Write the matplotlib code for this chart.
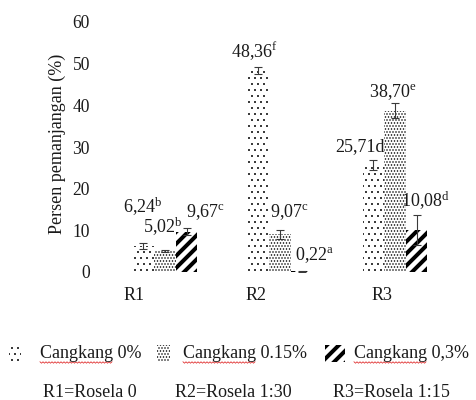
import numpy as np
import matplotlib
matplotlib.use("Agg")
import matplotlib.pyplot as plt
from matplotlib.patches import Rectangle

plt.rcParams['font.family'] = ['Liberation Serif', 'DejaVu Serif']
plt.rcParams['mathtext.fontset'] = 'custom'
plt.rcParams['mathtext.rm'] = 'Liberation Serif'
plt.rcParams['mathtext.it'] = 'Liberation Serif:italic'

# ---- data -------------------------------------------------------------
groups = ['R1', 'R2', 'R3']
series_names = ['Cangkang 0%', 'Cangkang 0.15%', 'Cangkang 0,3%']
cangkang_0 = [6.24, 48.36, 25.71]
cangkang_015 = [5.02, 9.07, 38.70]
cangkang_03 = [9.67, 0.22, 10.08]
err_0 = [0.7, 0.8, 1.2]
err_015 = [0.2, 1.1, 1.8]
err_03 = [0.8, 0.1, 3.5]
letters_0 = ['b', 'f', 'd']
letters_015 = ['b', 'c', 'e']
letters_03 = ['c', 'a', 'd']
group_notes = ['R1=Rosela 0', 'R2=Rosela 1:30', 'R3=Rosela 1:15']
y_ticks = [0, 10, 20, 30, 40, 50, 60]

# ---- styling ----------------------------------------------------------
W, H, DPI = 476, 400, 72
INK = '#1a1a1a'
FS = 18
hatches = ['..', '....', '//']
hatch_lw = [0.7, 0.9, 4.0]
bar_w = 0.187
# label offsets (points) from the top of each bar, per series / group
label_off = [
    [(-0.5, 33), (-4, 13.5), (-13.5, 14)],
    [(-2.5, 18), (9.5, 17), (-2.5, 13.75)],
    [(18.5, 14.7), (13, 11), (9, 23)],
]
inline_letter = {(0, 2)}
tick_shift = [-0.27, -0.21, -0.11]


def px(x, y):
    return x / W, 1 - y / H


fig = plt.figure(figsize=(W / DPI, H / DPI), dpi=DPI)
ax = fig.add_axes([100 / W, 1 - 272 / H, 360 / W, 250 / H])

x = np.arange(len(groups))
data = [cangkang_0, cangkang_015, cangkang_03]
errs = [err_0, err_015, err_03]
letters = [letters_0, letters_015, letters_03]

for i, (vals, e, hat, hlw) in enumerate(zip(data, errs, hatches, hatch_lw)):
    pos = x + (i - 1) * bar_w
    bars = ax.bar(pos, vals, bar_w, color='white', edgecolor='black',
                  linewidth=0, hatch=hat, label=series_names[i], zorder=2)
    for b in bars:
        b.set_hatch_linewidth(hlw)
    ax.errorbar(pos, vals, yerr=e, fmt='none', ecolor='#3a3a3a',
                elinewidth=1.1, capsize=4, capthick=1.1, zorder=3)
    for j, v in enumerate(vals):
        num = f"{v:.2f}".replace('.', ',')
        if (i, j) in inline_letter:
            txt = num + letters[i][j]
        else:
            txt = num + r"$^{\mathrm{" + letters[i][j] + "}}$"
        dx, dy = label_off[i][j]
        ax.annotate(txt, (pos[j], v), xytext=(dx, dy),
                    textcoords='offset points', ha='center', va='baseline',
                    fontsize=FS, color=INK, zorder=4)

ax.set_xlim((100 - 165) / 115, (460 - 165) / 115)
ax.set_ylim(0, 60)
ax.set_yticks(y_ticks)
ax.set_yticklabels([str(t) for t in y_ticks])
ax.set_xticks(x + np.array(tick_shift))
ax.set_xticklabels(groups)
ax.tick_params(axis='y', length=0, pad=10, labelsize=17.5, labelcolor=INK)
ax.tick_params(axis='x', length=0, pad=15, labelsize=FS, labelcolor=INK)
for s in ax.spines.values():
    s.set_visible(False)

fig.text(*px(57, 144), 'Persen pemanjangan (%)', rotation=90,
         ha='center', va='center', fontsize=FS, color=INK)

# ---- legend row ---------------------------------------------------------
renderer = fig.canvas.get_renderer()
icon_boxes = [(9, 12), (157, 13), (325, 20)]
text_x = [40, 183, 354]
for i, name in enumerate(series_names):
    x0, w = icon_boxes[i]
    r = Rectangle(px(x0, 362), w / W, 17 / H, transform=fig.transFigure,
                  facecolor='white', edgecolor='black', linewidth=0,
                  hatch=hatches[i])
    r.set_hatch_linewidth(hatch_lw[i])
    fig.add_artist(r)
    fig.text(*px(text_x[i], 358), name, ha='left', va='baseline',
             fontsize=FS, color=INK)
    # spell-check style wavy underline beneath the first word
    word = fig.text(0, 0, name.split()[0], fontsize=FS)
    ww = word.get_window_extent(renderer).width
    word.remove()
    xs = np.arange(text_x[i], text_x[i] + ww, 1.5)
    ys = 362.5 + np.where(np.arange(len(xs)) % 2 == 0, -0.7, 0.7)
    fig.add_artist(plt.Line2D(xs / W, 1 - ys / H, transform=fig.transFigure,
                              color='#e03030', linewidth=0.8))

note_x = [43, 175, 333]
for nx, note in zip(note_x, group_notes):
    fig.text(*px(nx, 397), note, ha='left', va='baseline',
             fontsize=FS, color=INK)

fig.savefig('out.png', dpi=DPI)
